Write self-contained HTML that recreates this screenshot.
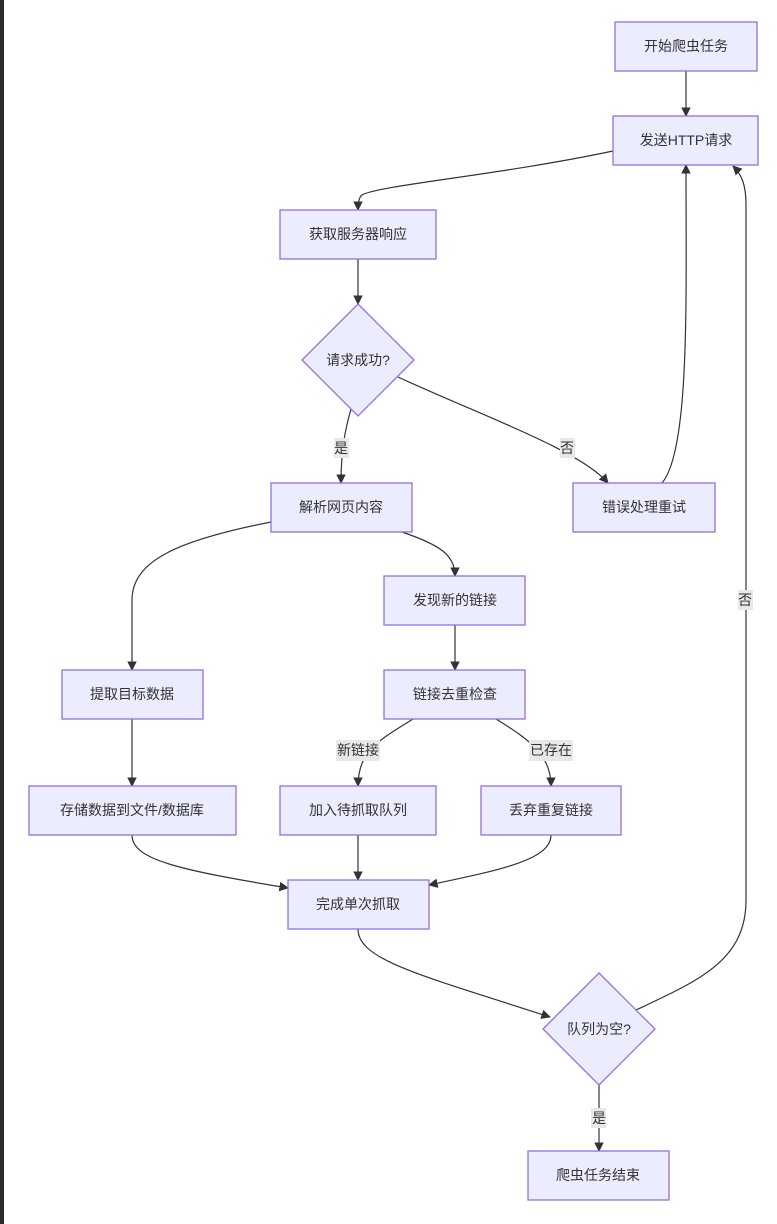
<!DOCTYPE html>
<html><head><meta charset="utf-8"><style>
html,body{margin:0;padding:0;background:#fff;}
svg{display:block;}
text{font-family:"Liberation Sans","Noto Sans CJK SC",sans-serif;font-size:14px;fill:#333;}
.n{fill:#ECECFF;stroke:#9370DB;stroke-width:1.3;}
.e{fill:none;stroke:#333;stroke-width:1.2;}
.lb{fill:#e8e8e8;}
</style></head><body>
<svg width="777" height="1224" viewBox="0 0 777 1224" xmlns="http://www.w3.org/2000/svg">
<defs><marker id="a" viewBox="0 0 10 10" refX="9" refY="5" markerWidth="8" markerHeight="8" orient="auto"><path d="M0,0 L10,5 L0,10 z" fill="#333"/></marker></defs>
<rect x="0" y="0" width="4" height="1224" fill="#2b2b2b"/>
<path class="e" marker-end="url(#a)" d="M686,71 V116"/>
<path class="e" marker-end="url(#a)" d="M613,151 C500,175 380,185 362,195 Q358,198 358,210"/>
<path class="e" marker-end="url(#a)" d="M358,259 V304"/>
<path class="e" marker-end="url(#a)" d="M351,409 C345,430 341,450 341,483"/>
<path class="e" marker-end="url(#a)" d="M398,377 C480,415 580,450 608,483"/>
<path class="e" marker-end="url(#a)" d="M662,483 C690,450 686,300 686,165"/>
<path class="e" marker-end="url(#a)" d="M271,522 C180,540 132,560 132,600 V670"/>
<path class="e" marker-end="url(#a)" d="M402,532 C440,545 455,555 455,576"/>
<path class="e" marker-end="url(#a)" d="M455,625 V670"/>
<path class="e" marker-end="url(#a)" d="M132,719 V786"/>
<path class="e" marker-end="url(#a)" d="M413,719 C380,740 358,750 358,786"/>
<path class="e" marker-end="url(#a)" d="M496,719 C530,740 551,755 551,786"/>
<path class="e" marker-end="url(#a)" d="M132,835 C132,860 180,870 288,888"/>
<path class="e" marker-end="url(#a)" d="M358,835 V880"/>
<path class="e" marker-end="url(#a)" d="M551,835 C551,860 500,870 429,885"/>
<path class="e" marker-end="url(#a)" d="M358,929 C358,960 420,975 550,1017"/>
<path class="e" marker-end="url(#a)" d="M636,1010 C700,980 746,960 746,900 V205 C746,185 742,175 733,166"/>
<path class="e" marker-end="url(#a)" d="M599,1085 V1151"/>
<rect class="lb" x="334" y="438" width="15" height="20"/><text x="341" y="453" text-anchor="middle">是</text>
<rect class="lb" x="560" y="438" width="15" height="20"/><text x="567" y="453" text-anchor="middle">否</text>
<rect class="lb" x="738" y="590" width="15" height="20"/><text x="745" y="605" text-anchor="middle">否</text>
<rect class="lb" x="336" y="740" width="44" height="21"/><text x="358" y="755" text-anchor="middle">新链接</text>
<rect class="lb" x="529" y="740" width="44" height="21"/><text x="551" y="755" text-anchor="middle">已存在</text>
<rect class="lb" x="591" y="1108" width="15" height="20"/><text x="599" y="1123" text-anchor="middle">是</text>
<rect class="n" x="615" y="22" width="142" height="49"/><text x="686" y="51" text-anchor="middle">开始爬虫任务</text>
<rect class="n" x="613" y="116" width="145" height="49"/><text x="686" y="145" text-anchor="middle">发送HTTP请求</text>
<rect class="n" x="280" y="210" width="156" height="49"/><text x="358" y="239" text-anchor="middle">获取服务器响应</text>
<polygon class="n" points="358,304 414,360 358,416 302,360"/><text x="358" y="365" text-anchor="middle">请求成功?</text>
<rect class="n" x="271" y="483" width="141" height="49"/><text x="341" y="512" text-anchor="middle">解析网页内容</text>
<rect class="n" x="573" y="483" width="142" height="49"/><text x="644" y="512" text-anchor="middle">错误处理重试</text>
<rect class="n" x="384" y="576" width="141" height="49"/><text x="455" y="605" text-anchor="middle">发现新的链接</text>
<rect class="n" x="62" y="670" width="141" height="49"/><text x="132" y="699" text-anchor="middle">提取目标数据</text>
<rect class="n" x="384" y="670" width="141" height="49"/><text x="455" y="699" text-anchor="middle">链接去重检查</text>
<rect class="n" x="29" y="786" width="207" height="49"/><text x="132" y="815" text-anchor="middle">存储数据到文件/数据库</text>
<rect class="n" x="280" y="786" width="156" height="49"/><text x="358" y="815" text-anchor="middle">加入待抓取队列</text>
<rect class="n" x="481" y="786" width="140" height="49"/><text x="551" y="815" text-anchor="middle">丢弃重复链接</text>
<rect class="n" x="288" y="880" width="141" height="49"/><text x="358" y="909" text-anchor="middle">完成单次抓取</text>
<polygon class="n" points="599,973 655,1029 599,1085 543,1029"/><text x="599" y="1034" text-anchor="middle">队列为空?</text>
<rect class="n" x="528" y="1151" width="141" height="49"/><text x="598" y="1180" text-anchor="middle">爬虫任务结束</text>
</svg>
</body></html>
